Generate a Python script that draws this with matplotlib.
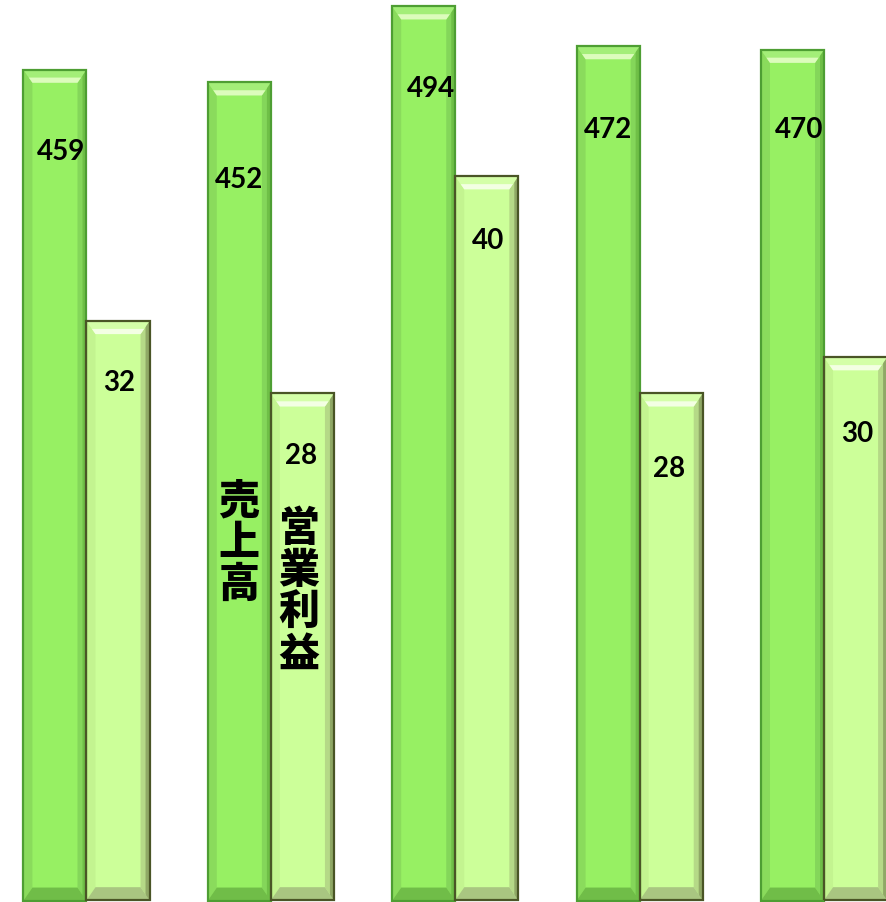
import numpy as np
import matplotlib.pyplot as plt
from matplotlib.patches import Polygon
from matplotlib.transforms import IdentityTransform

# 売上高 (left axis) and 営業利益 (right axis) for five periods
sales = [459, 452, 494, 472, 470]
profit = [32, 28, 40, 28, 30]
series_names = ['売上高', '営業利益']

# where each value label sits: pixels below the bar top, pixels right of centre
sales_drop = [89, 105, 90, 91, 87]
sales_dx = [6, 0, 7, 0, 7]
profit_drop = [69, 70, 72, 83, 84]
profit_dx = [1, -1, 1, -2, 2]

W, H, DPI = 886, 903, 100
fig = plt.figure(figsize=(W / DPI, H / DPI), dpi=DPI)
ax = fig.add_axes([0, 0, 1, 1])
ax2 = ax.twinx()

x = np.arange(len(sales))
w = 0.342
ax.set_xlim(-0.469, 4.336)
ax.set_ylim(-0.8, 498.1)
ax2.set_ylim(-0.1, 49.8)
for a in (ax, ax2):
    a.set_axis_off()

DARK = dict(face='#97f063', top='#a3ee78', hi='#dcfcbc', left='#8adb5c',
            right='#84d65a', shade='#6fbf47', bottom='#70bd48', edge='#4e9e33')
LIGHT = dict(face='#ccff99', top='#d4ffa8', hi='#f3ffe3', left='#c3f490',
             right='#b5d987', shade='#8fa866', bottom='#a9c681', edge='#4a5526')

bars1 = ax.bar(x - w / 2, sales, w, color=DARK['face'], linewidth=0)
bars2 = ax2.bar(x + w / 2, profit, w, color=LIGHT['face'], linewidth=0)


def bevel(bar, c, bx=9, by=13):
    """Fake the rounded 3-D bevel with flat facets drawn in pixel space."""
    x0, y0, x1, y1 = bar.get_window_extent().extents
    ident = IdentityTransform()
    sx = 4  # darker outer band on the shadow side
    facets = [
        ([(x0, y0), (x0 + bx, y0 + by), (x0 + bx, y1 - by), (x0, y1)], c['left']),
        ([(x1, y0), (x1 - bx, y0 + by), (x1 - bx, y1 - by), (x1, y1)], c['right']),
        ([(x1, y0), (x1 - sx, y0 + sx), (x1 - sx, y1 - sx), (x1, y1)], c['shade']),
        ([(x0, y1), (x1, y1), (x1 - bx, y1 - by), (x0 + bx, y1 - by)], c['top']),
        ([(x0, y0), (x1, y0), (x1 - bx, y0 + by), (x0 + bx, y0 + by)], c['bottom']),
        ([(x0 + bx * 0.6, y1 - by * 0.6), (x1 - bx * 0.6, y1 - by * 0.6),
          (x1 - bx, y1 - by), (x0 + bx, y1 - by)], c['hi']),
    ]
    for pts, col in facets:
        ax2.add_patch(Polygon(pts, closed=True, fc=col, ec='none',
                              transform=ident, zorder=3))
    ax2.add_patch(Polygon([(x0, y0), (x1, y0), (x1, y1), (x0, y1)], closed=True,
                          fill=False, ec=c['edge'], lw=1.6,
                          transform=ident, zorder=4))


for b in bars1:
    bevel(b, DARK)
for b in bars2:
    bevel(b, LIGHT)

lbl_font = dict(family='Lato', fontweight='bold', fontsize=20,
                ha='center', va='baseline', color='black', zorder=6)
for i, b in enumerate(bars1):
    ax2.annotate(f'{sales[i]}', xy=(b.get_x() + b.get_width() / 2, sales[i]),
                 xycoords=ax.transData, xytext=(sales_dx[i], -sales_drop[i]),
                 textcoords='offset pixels', **lbl_font)
for i, b in enumerate(bars2):
    ax2.annotate(f'{profit[i]}', xy=(b.get_x() + b.get_width() / 2, profit[i]),
                 xycoords=ax2.transData, xytext=(profit_dx[i], -profit_drop[i]),
                 textcoords='offset pixels', **lbl_font)


def vertical_label(text, cx, cy, step=42):
    # stack the characters top to bottom (pixel coords from the top-left)
    for k, ch in enumerate(text):
        fig.text(cx / W, 1 - (cy + k * step) / H, ch,
                 family=['Noto Sans CJK JP', 'DejaVu Sans'], fontweight='heavy',
                 fontsize=29.5, ha='center', va='center', color='black',
                 zorder=10)


vertical_label(series_names[0], 239, 501)
vertical_label(series_names[1], 299, 529)

fig.savefig('out.png', dpi=DPI)
